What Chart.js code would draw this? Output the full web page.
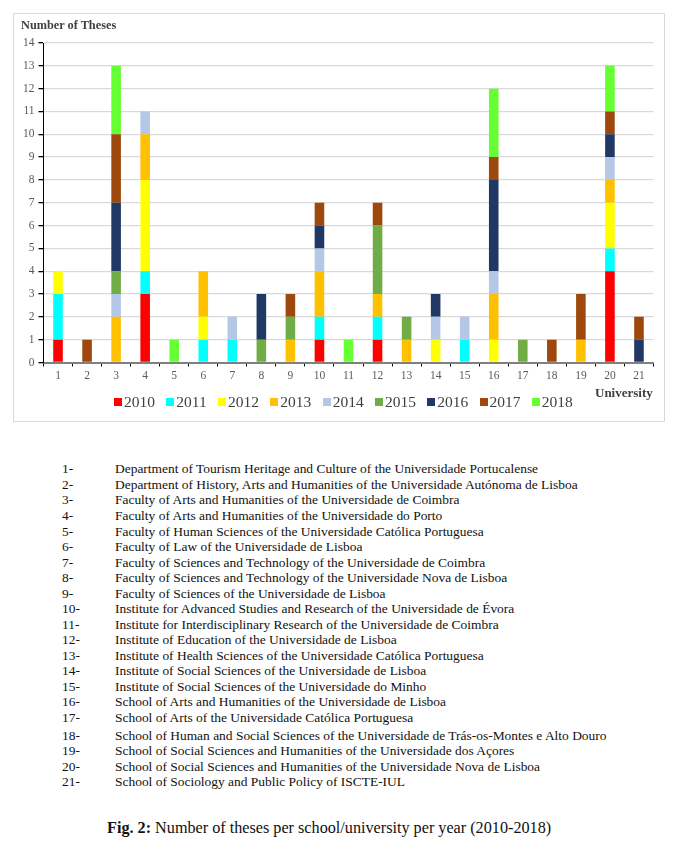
<!DOCTYPE html>
<html>
<head>
<meta charset="utf-8">
<script src="https://cdn.jsdelivr.net/npm/chart.js@4.4.1/dist/chart.umd.min.js"></script>
<style>
  body { margin: 0; background: #fff; font-family: "Times New Roman", Times, "Liberation Serif", "DejaVu Serif", serif; }
  #page { position: relative; width: 675px; height: 852px; }
  #frame { position: absolute; left: 13px; top: 13px; width: 650px; height: 407px; border: 1.5px solid #d9d9d9; }
  #wrap { position: absolute; left: 14px; top: 14px; width: 650px; height: 407px; }
  #ytitle { position: absolute; left: 21px; top: 18px; font-size: 12.3px; font-weight: bold; color: #404040; }
  #xtitle { position: absolute; left: 595px; top: 385px; font-size: 13px; font-weight: bold; color: #404040; }
  #legend { position: absolute; left: 114px; top: 393px; display: flex; font-size: 15.5px; color: #404040; }
  .item { display: flex; align-items: center; margin-right: 11.3px; }
  .item span.box { width: 8px; height: 8px; margin-right: 2px; display: inline-block; }
  #list { position: absolute; left: 0; top: 0; font-size: 13.45px; color: #111; }
  .row { position: absolute; white-space: nowrap; }
  .num { position: absolute; left: 62px; }
  .txt { position: absolute; left: 115px; }
  #caption { position: absolute; left: 107px; top: 819px; font-size: 16.2px; color: #111; white-space: nowrap; }
</style>
</head>
<body>
<div id="page">
  <div id="frame"></div>
  <div id="wrap"><canvas id="myChart"></canvas></div>
  <div id="ytitle">Number of Theses</div>
  <div id="xtitle">University</div>
  <div id="legend"></div>
  <div id="list"></div>
  <div id="caption"><b>Fig. 2:</b> Number of theses per school/university per year (2010-2018)</div>
</div>
<script>
const serif = '"Times New Roman", Times, "Liberation Serif", "DejaVu Serif", serif';

// universities 1..21
const universities = ['1','2','3','4','5','6','7','8','9','10','11','12','13','14','15','16','17','18','19','20','21'];
const years = ['2010','2011','2012','2013','2014','2015','2016','2017','2018'];

// theses per year, one value per university
const y2010 = [1,0,0,3,0,0,0,0,0,1,0,1,0,0,0,0,0,0,0,4,0];
const y2011 = [2,0,0,1,0,1,1,0,0,1,0,1,0,0,1,0,0,0,0,1,0];
const y2012 = [1,0,0,4,0,1,0,0,0,0,0,0,0,1,0,1,0,0,0,2,0];
const y2013 = [0,0,2,2,0,2,0,0,1,2,0,1,1,0,0,2,0,0,1,1,0];
const y2014 = [0,0,1,1,0,0,1,0,0,1,0,0,0,1,1,1,0,0,0,1,0];
const y2015 = [0,0,1,0,0,0,0,1,1,0,0,3,1,0,0,0,1,0,0,0,0];
const y2016 = [0,0,3,0,0,0,0,2,0,1,0,0,0,1,0,4,0,0,0,1,1];
const y2017 = [0,1,3,0,0,0,0,0,1,1,0,1,0,0,0,1,0,1,2,1,1];
const y2018 = [0,0,3,0,1,0,0,0,0,0,1,0,0,0,0,3,0,0,0,2,0];

const yTicks = [0,1,2,3,4,5,6,7,8,9,10,11,12,13,14];

const schoolNames = [
  'Department of Tourism Heritage and Culture of the Universidade Portucalense',
  'Department of History, Arts and Humanities of the Universidade Autónoma de Lisboa',
  'Faculty of Arts and Humanities of the Universidade de Coimbra',
  'Faculty of Arts and Humanities of the Universidade do Porto',
  'Faculty of Human Sciences of the Universidade Católica Portuguesa',
  'Faculty of Law of the Universidade de Lisboa',
  'Faculty of Sciences and Technology of the Universidade de Coimbra',
  'Faculty of Sciences and Technology of the Universidade Nova de Lisboa',
  'Faculty of Sciences of the Universidade de Lisboa',
  'Institute for Advanced Studies and Research of the Universidade de Évora',
  'Institute for Interdisciplinary Research of the Universidade de Coimbra',
  'Institute of Education of the Universidade de Lisboa',
  'Institute of Health Sciences of the Universidade Católica Portuguesa',
  'Institute of Social Sciences of the Universidade de Lisboa',
  'Institute of Social Sciences of the Universidade do Minho',
  'School of Arts and Humanities of the Universidade de Lisboa',
  'School of Arts of the Universidade Católica Portuguesa',
  'School of Human and Social Sciences of the Universidade de Trás-os-Montes e Alto Douro',
  'School of Social Sciences and Humanities of the Universidade dos Açores',
  'School of Social Sciences and Humanities of the Universidade Nova de Lisboa',
  'School of Sociology and Public Policy of ISCTE-IUL'
];

const series = [y2010, y2011, y2012, y2013, y2014, y2015, y2016, y2017, y2018];
const colors = ['#ff0000','#00ffff','#ffff00','#ffc000','#b4c7e7','#70ad47','#1f3864','#9e480e','#66ff33'];

const datasets = years.map((yr, i) => ({
  label: yr,
  data: series[i],
  backgroundColor: colors[i],
  barPercentage: 0.33,
  categoryPercentage: 1.0
}));

var ctx = document.getElementById('myChart').getContext('2d');
var myChart = new Chart(ctx, {
  type: 'bar',
  data: { labels: universities, datasets: datasets },
  options: {
    responsive: true,
    maintainAspectRatio: false,
    animation: false,
    layout: { padding: { top: 29, right: 10.5, bottom: 36.5, left: 0 } },
    plugins: { legend: { display: false }, tooltip: { enabled: false } },
    scales: {
      x: {
        stacked: true,
        afterFit: s => { s.height = 22; },
        grid: { drawOnChartArea: false, offset: true, tickColor: '#000', tickLength: 4 },
        border: { color: '#808080', width: 2 },
        ticks: { color: '#595959', padding: 3, font: { family: serif, size: 11.5 } }
      },
      y: {
        stacked: true,
        min: 0,
        max: 14,
        afterFit: s => { s.width = 29.5; },
        afterBuildTicks: s => { s.ticks = yTicks.map(v => ({ value: v })); },
        grid: { color: '#d9d9d9', lineWidth: 1.3, tickColor: '#000', tickLength: 5 },
        border: { color: '#000', width: 1 },
        ticks: { color: '#595959', padding: 4, font: { family: serif, size: 11.5 } }
      }
    }
  }
});

// legend
const legend = document.getElementById('legend');
years.forEach((yr, i) => {
  const d = document.createElement('div');
  d.className = 'item';
  d.innerHTML = '<span class="box" style="background:' + colors[i] + '"></span>' + yr;
  legend.appendChild(d);
});

// list of schools
const rowTops = [469,485,500,516,532,547,563,578,594,609,625,640,656,671,687,702,718,736,751,767,782];
const list = document.getElementById('list');
schoolNames.forEach((name, i) => {
  const r = document.createElement('div');
  r.className = 'row';
  r.style.top = (rowTops[i] - 8) + 'px';
  r.innerHTML = '<span class="num">' + universities[i] + '-</span><span class="txt">' + name + '</span>';
  list.appendChild(r);
});
</script>
</body>
</html>
